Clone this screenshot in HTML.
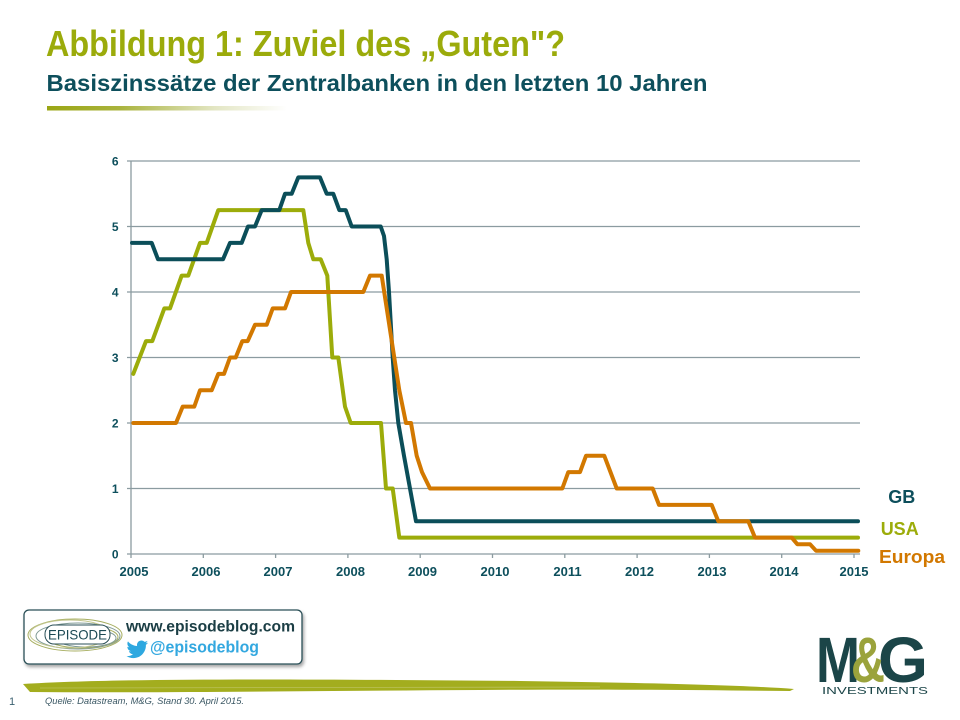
<!DOCTYPE html>
<html><head><meta charset="utf-8"><style>
html,body{margin:0;padding:0;background:#fff;}
svg{display:block;}
text{font-family:"Liberation Sans",Arial,sans-serif;}
</style></head><body>
<svg width="960" height="720" viewBox="0 0 960 720" xmlns="http://www.w3.org/2000/svg">
<defs>
<linearGradient id="ul" x1="0" x2="1" y1="0" y2="0">
<stop offset="0" stop-color="#9aa614"/>
<stop offset="0.3" stop-color="#a9b33c"/>
<stop offset="0.7" stop-color="#e3e6c4"/>
<stop offset="1" stop-color="#ffffff"/>
</linearGradient>
<filter id="sh" x="-10%" y="-20%" width="120%" height="150%">
<feDropShadow dx="1.5" dy="2.5" stdDeviation="1.5" flood-color="#000" flood-opacity="0.35"/>
</filter>
</defs>
<rect width="960" height="720" fill="#fff"/>

<!-- Titles -->
<text x="46" y="56" font-size="36" font-weight="bold" fill="#9bab0b" textLength="519" lengthAdjust="spacingAndGlyphs">Abbildung 1: Zuviel des „Guten"?</text>
<text x="46.5" y="91" font-size="23" font-weight="bold" fill="#0d4f5c" textLength="661" lengthAdjust="spacingAndGlyphs">Basiszinssätze der Zentralbanken in den letzten 10 Jahren</text>
<rect x="47" y="106" width="240" height="4.5" fill="url(#ul)"/>

<!-- Grid -->
<g stroke="#8b9ba0" stroke-width="1.3">
<line x1="127" y1="161" x2="860" y2="161"/>
<line x1="127" y1="226.5" x2="860" y2="226.5"/>
<line x1="127" y1="292" x2="860" y2="292"/>
<line x1="127" y1="357.5" x2="860" y2="357.5"/>
<line x1="127" y1="423" x2="860" y2="423"/>
<line x1="127" y1="488.5" x2="860" y2="488.5"/>
<line x1="127" y1="554" x2="860" y2="554"/>
<line x1="131" y1="161" x2="131" y2="558"/>
<line x1="203.3" y1="554" x2="203.3" y2="558"/>
<line x1="275.6" y1="554" x2="275.6" y2="558"/>
<line x1="347.9" y1="554" x2="347.9" y2="558"/>
<line x1="420.2" y1="554" x2="420.2" y2="558"/>
<line x1="492.5" y1="554" x2="492.5" y2="558"/>
<line x1="564.8" y1="554" x2="564.8" y2="558"/>
<line x1="637.1" y1="554" x2="637.1" y2="558"/>
<line x1="709.4" y1="554" x2="709.4" y2="558"/>
<line x1="781.7" y1="554" x2="781.7" y2="558"/>
<line x1="854" y1="554" x2="854" y2="558"/>
</g>

<!-- Y labels -->
<g font-size="12" font-weight="bold" fill="#0d4f5c" text-anchor="end">
<text x="118.5" y="165.5">6</text>
<text x="118.5" y="231">5</text>
<text x="118.5" y="296.5">4</text>
<text x="118.5" y="362">3</text>
<text x="118.5" y="427.5">2</text>
<text x="118.5" y="493">1</text>
<text x="118.5" y="558.5">0</text>
</g>
<!-- X labels -->
<g font-size="13" font-weight="bold" fill="#0d4f5c" text-anchor="middle">
<text x="134" y="576">2005</text>
<text x="206" y="576">2006</text>
<text x="278" y="576">2007</text>
<text x="350.5" y="576">2008</text>
<text x="422.5" y="576">2009</text>
<text x="495" y="576">2010</text>
<text x="567.5" y="576">2011</text>
<text x="639.5" y="576">2012</text>
<text x="712" y="576">2013</text>
<text x="784" y="576">2014</text>
<text x="854" y="576">2015</text>
</g>

<!-- Series -->
<g fill="none" stroke-width="4" stroke-linejoin="round" stroke-linecap="round">
<polyline stroke="#9cac0a" points="133.3,373.9 146,341.1 152.3,341.1 164.3,308.4 170,308.4 181.7,275.6 188.3,275.6 200,242.9 206.7,242.9 218.3,210.1 303.3,210.1 308.3,242.9 313.3,259.3 320.7,259.3 327.3,275.6 332.3,357.5 338.3,357.5 345,406.6 350.7,423 381,423 386,488.5 392.7,488.5 399.3,537.6 858,537.6"/>
<polyline stroke="#0b4e59" points="132,242.9 151.7,242.9 158,259.3 223,259.3 230,242.9 241.7,242.9 248,226.5 255,226.5 261.7,210.1 279.3,210.1 285,193.8 291.7,193.8 298.3,177.4 320,177.4 326.7,193.8 333.3,193.8 339.3,210.1 345.7,210.1 351.7,226.5 380.7,226.5 384,236 386.7,259.3 389,292 392.7,357.5 395,390.3 398.3,423 404,455.8 410,488.5 416,521.3 858,521.3"/>
<polyline stroke="#d27800" points="133.3,423 176,423 182.7,406.6 194.3,406.6 200,390.3 211.7,390.3 218.3,373.9 224,373.9 230,357.5 235.7,357.5 242.3,341.1 247.7,341.1 255,324.8 266.7,324.8 272.7,308.4 285,308.4 291,292 363.3,292 370,275.6 381.7,275.6 399.3,390.3 406,423 411,423 416.7,455.8 422,472.1 430,488.5 562.3,488.5 568.3,472.1 580,472.1 586,455.8 604.3,455.8 616.7,488.5 652.7,488.5 659,504.9 711.7,504.9 718.3,521.3 748.3,521.3 755,537.6 791.7,537.6 797.3,544.2 810,544.2 816,550.7 858.3,550.7"/>
</g>

<!-- Legend labels -->
<g font-size="18" font-weight="bold">
<text x="888.3" y="503" fill="#0d4f5c">GB</text>
<text x="880.7" y="535" fill="#9cac0a">USA</text>
<text x="879" y="563" fill="#d27800" textLength="66" lengthAdjust="spacingAndGlyphs">Europa</text>
</g>

<!-- Episode box -->
<rect x="24" y="610" width="278" height="54" rx="5" fill="#fff" stroke="#2a4f57" stroke-width="1.3" filter="url(#sh)"/>
<g fill="none" stroke-width="1">
<ellipse cx="75" cy="635" rx="47" ry="16" stroke="#a7ae60"/>
<ellipse cx="78" cy="636" rx="42" ry="13" stroke="#7f9a95"/>
<ellipse cx="82" cy="637" rx="36" ry="11" stroke="#a7ae60"/>
<ellipse cx="86" cy="638" rx="30" ry="9" stroke="#7f9a95"/>
<ellipse cx="70" cy="634" rx="40" ry="14" stroke="#c2c68e"/>
</g>
<rect x="45" y="625" width="65" height="19" rx="9" fill="#fff" stroke="#2a4f57" stroke-width="1"/>
<text x="48" y="639.5" font-size="14" fill="#1d4a55" textLength="59" lengthAdjust="spacingAndGlyphs">EPISODE</text>
<text x="126" y="631.5" font-size="16" font-weight="bold" fill="#1b3e45" textLength="169" lengthAdjust="spacingAndGlyphs">www.episodeblog.com</text>
<path transform="translate(126.5,638.5) scale(0.9)" fill="#2ea8e0" d="M23.954 4.569c-.885.389-1.83.654-2.825.775 1.014-.611 1.794-1.574 2.163-2.723-.951.555-2.005.959-3.127 1.184-.896-.959-2.173-1.559-3.591-1.559-2.717 0-4.92 2.203-4.92 4.917 0 .39.045.765.127 1.124C7.691 8.094 4.066 6.13 1.64 3.161c-.427.722-.666 1.561-.666 2.475 0 1.71.87 3.213 2.188 4.096-.807-.026-1.566-.248-2.228-.616v.061c0 2.385 1.693 4.374 3.946 4.827-.413.111-.849.171-1.296.171-.314 0-.615-.03-.916-.086.631 1.953 2.445 3.377 4.604 3.417-1.68 1.319-3.809 2.105-6.102 2.105-.39 0-.779-.023-1.17-.067 2.189 1.394 4.768 2.209 7.557 2.209 9.054 0 13.999-7.496 13.999-13.986 0-.209 0-.42-.015-.63.961-.689 1.8-1.56 2.46-2.548l-.047-.02z"/>
<text x="150" y="652.7" font-size="17" font-weight="bold" fill="#33a8e0" textLength="109" lengthAdjust="spacingAndGlyphs">@episodeblog</text>

<!-- Brush stroke -->
<path d="M23,684 C120,678 300,679 520,681 C650,683 740,685 794,689 L790,691 C700,690 600,689 480,690 C300,691 150,693 30,692 Z" fill="#a3ad1e"/>
<path d="M40,688 C200,686 400,686 600,687" stroke="#c5cb72" stroke-width="0.8" fill="none" opacity="0.7"/>

<!-- M&G logo -->
<text x="816" y="682" font-size="64" font-weight="bold" fill="#1b4548" textLength="44" lengthAdjust="spacingAndGlyphs">M</text>
<text x="878" y="682" font-size="64" font-weight="bold" fill="#1b4548" textLength="50" lengthAdjust="spacingAndGlyphs">G</text>
<text x="851" y="682" font-size="64" font-weight="bold" fill="#9ba33c" textLength="34" lengthAdjust="spacingAndGlyphs">&amp;</text>
<text x="822" y="694" font-size="10.5" fill="#1b4548" textLength="106" lengthAdjust="spacingAndGlyphs">INVESTMENTS</text>

<!-- Footer -->
<text x="9" y="705" font-size="11" fill="#3a6170">1</text>
<text x="45" y="704" font-size="9" font-style="italic" fill="#3a5763" textLength="199" lengthAdjust="spacingAndGlyphs">Quelle: Datastream,  M&amp;G, Stand 30. April 2015.</text>
</svg>
</body></html>
